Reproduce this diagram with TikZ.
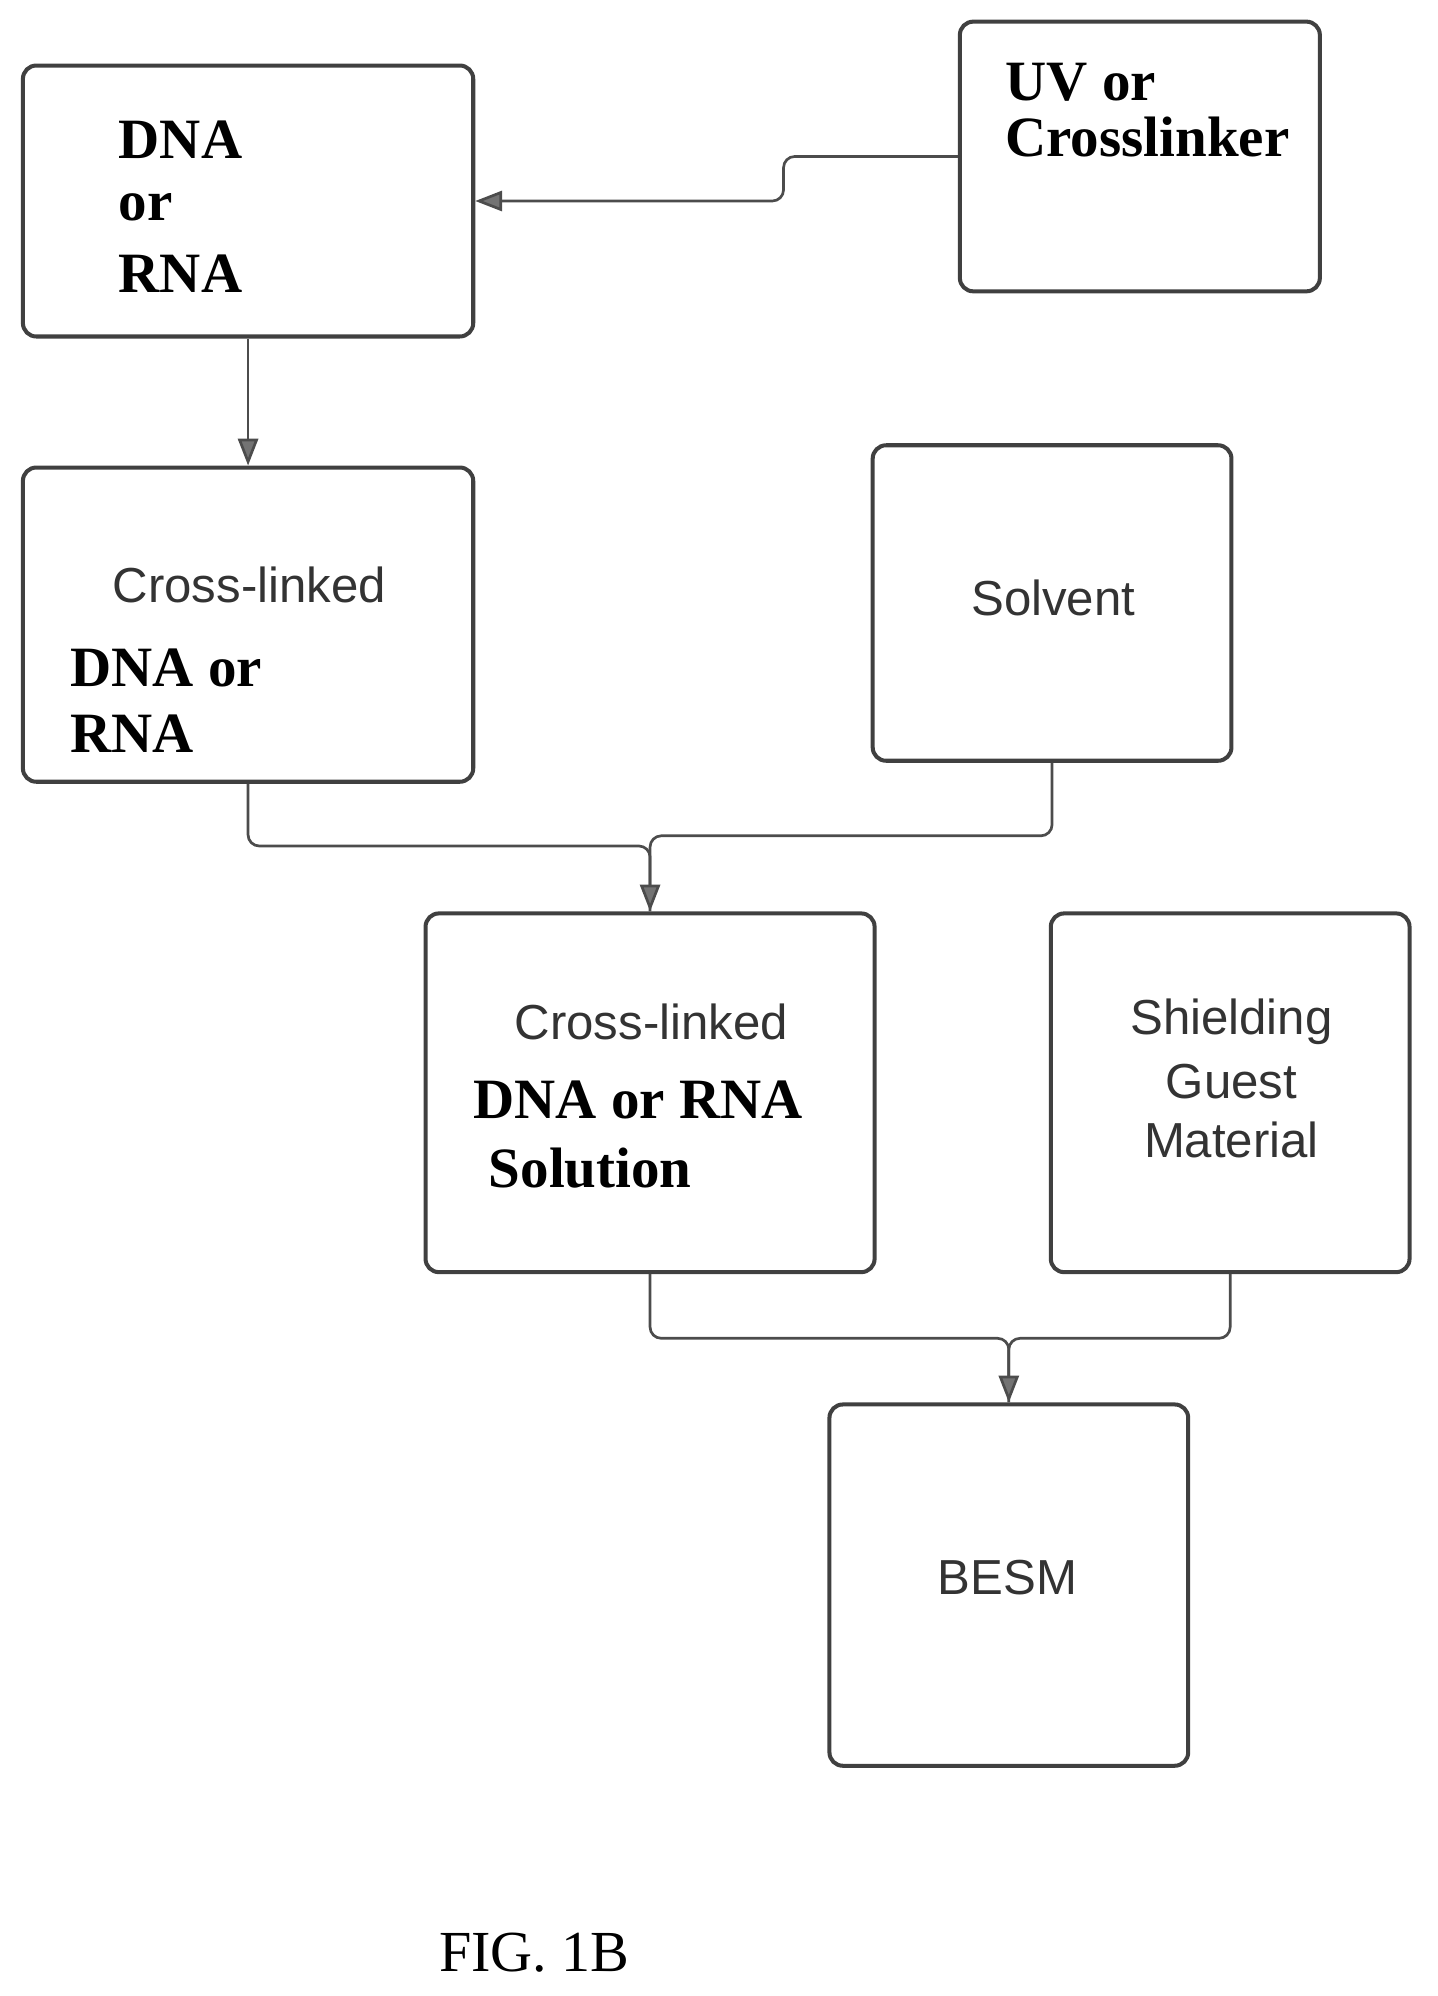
\documentclass[tikz,border=0pt]{standalone}
\usepackage{fontspec}
\setmainfont{Liberation Serif}
\setsansfont{Liberation Sans}
\usetikzlibrary{arrows.meta}
\begin{document}
\begin{tikzpicture}[x=0.02cm,y=-0.02cm,
	box/.style={draw=black!75,line width=1.8pt,rounded corners=6pt,inner sep=0pt},
	bold/.style={font=\fontsize{25.5}{30}\selectfont\bfseries,anchor=west,inner sep=0pt},
	sans/.style={font=\sffamily\fontsize{22}{26}\selectfont,text=black!80,inner sep=0pt},
	link/.style={draw=black!70,line width=1.2pt,rounded corners=5pt,-{Triangle[length=12pt,width=9pt,fill=black!55]}},
	seg/.style={draw=black!70,line width=1.2pt,rounded corners=5pt}]
	\useasboundingbox (0,0) rectangle (1130,1569);

	\node[box,minimum width=354*0.02cm,minimum height=213*0.02cm]	(dna)	at (195,158)	{};
	\node[box,minimum width=283*0.02cm,minimum height=212*0.02cm]	(uv)	at (896,123)	{};
	\node[box,minimum width=354*0.02cm,minimum height=247*0.02cm]	(cross)	at (195,491)	{};
	\node[box,minimum width=282*0.02cm,minimum height=248*0.02cm]	(solv)	at (827,474)	{};
	\node[box,minimum width=353*0.02cm,minimum height=282*0.02cm]	(sol)	at (511,859)	{};
	\node[box,minimum width=282*0.02cm,minimum height=282*0.02cm]	(shield)	at (967,859)	{};
	\node[box,minimum width=282*0.02cm,minimum height=284*0.02cm]	(besm)	at (793,1246)	{};

	\node[bold]	(t1)	at (93,110)	{DNA};
	\node[bold]	(t2)	at (93,163)	{or};
	\node[bold]	(t3)	at (93,215)	{RNA};
	\node[bold]	(t4)	at (790,65)	{UV or};
	\node[bold]	(t5)	at (790,108)	{Crosslinker};
	\node[sans]	(t6)	at (196,460)	{Cross-linked};
	\node[bold]	(t7)	at (55,525)	{DNA or};
	\node[bold]	(t8)	at (55,577)	{RNA};
	\node[sans]	(t9)	at (828,470)	{Solvent};
	\node[sans]	(t10)	at (512,803)	{Cross-linked};
	\node[bold]	(t11)	at (372,865)	{DNA or RNA};
	\node[bold]	(t12)	at (384,918)	{Solution};
	\node[sans]	(t13)	at (968,803)	{Shielding};
	\node[sans]	(t14)	at (968,850)	{Guest};
	\node[sans]	(t15)	at (968,896)	{Material};
	\node[sans]	(t16)	at (792,1240)	{BESM};
	\node[font=\fontsize{26}{30}\selectfont]	(fig)	at (420,1535)	{FIG. 1B};

	\draw[link] (uv.west) -- ++(-137,0) |- (dna.east);
	\draw[link] (dna.south) -- (cross.north);
	\draw[seg] (cross.south) |- (350,665) -| (sol.north);
	\draw[link] (solv.south) |- (650,657) -| (sol.north);
	\draw[seg] (sol.south) |- (650,1052) -| (besm.north);
	\draw[link] (shield.south) |- (880,1052) -| (besm.north);
\end{tikzpicture}
\end{document}
